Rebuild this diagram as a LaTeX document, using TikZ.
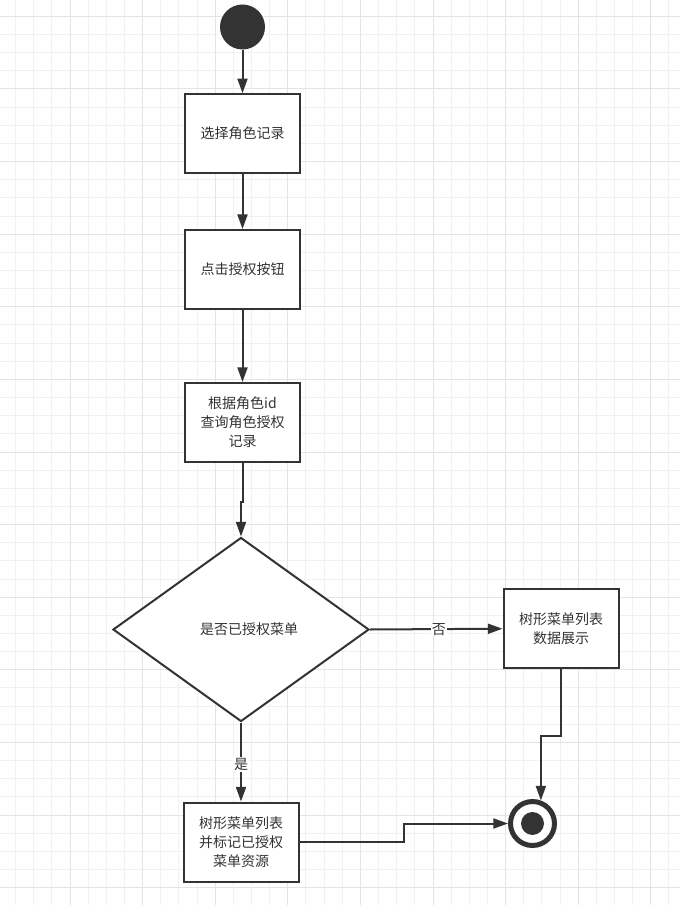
\documentclass[tikz,border=0pt]{standalone}
\usepackage{fontspec}
\setmainfont{Noto Sans CJK SC}
\usetikzlibrary{shapes.geometric,arrows.meta}
\definecolor{dk}{HTML}{333333}
\definecolor{gmin}{HTML}{F1F1F1}
\definecolor{gmaj}{HTML}{E4E4E4}
\begin{document}
\begin{tikzpicture}[x=0.75pt,y=-0.75pt,
  txt/.style={text=dk,font=\fontsize{10.5pt}{14.25pt}\selectfont,align=center},
  box/.style={txt,draw=dk,line width=1.5pt,fill=white,minimum width=86.25pt,minimum height=59.25pt,inner sep=2pt},
  arr/.style={draw=dk,line width=1.5pt,-{Triangle[length=11pt,width=7.5pt]}},
  lbl/.style={txt,fill=white,inner sep=1pt}]
\fill[white] (0,0) rectangle (680,905);
\useasboundingbox (0,0) rectangle (680,905);
% grid
\foreach \k in {-3,...,33} \draw[gmin,line width=0.75pt] ({70+18.15*\k},0) -- ({70+18.15*\k},905);
\foreach \k in {-4,...,44} \draw[gmin,line width=0.75pt] (0,{89+18.15*\k}) -- (680,{89+18.15*\k});
\foreach \k in {-1,...,8} \draw[gmaj,line width=0.75pt] ({70+72.6*\k},0) -- ({70+72.6*\k},905);
\foreach \k in {-1,...,11} \draw[gmaj,line width=0.75pt] (0,{89+72.6*\k}) -- (680,{89+72.6*\k});
% nodes
\node[circle,fill=dk,minimum size=33.75pt,inner sep=0pt] (start) at (242.5,27) {};
\node[box] (b1) at (242.5,133.7) {选择角色记录};
\node[box] (b2) at (242.5,269.5) {点击授权按钮};
\node[box] (b3) at (242.5,422.5) {根据角色id\\查询角色授权\\记录};
\node[diamond,draw=dk,line width=1.5pt,fill=white,minimum width=192pt,minimum height=138pt,aspect=1.39,inner sep=0pt] (d) at (241,629.5) {};
\node[txt] (dt) at (249,629) {是否已授权菜单};
\node[box] (b4) at (561,628.7) {树形菜单列表\\数据展示};
\node[box] (b5) at (241,842) {树形菜单列表\\并标记已授权\\菜单资源};
\node[circle,draw=dk,line width=3.75pt,fill=white,minimum size=33pt,inner sep=0pt] (end) at (532.5,823.5) {};
\fill[dk] (end.center) circle (8.6pt);
% connectors
\draw[arr] (start) -- (b1);
\draw[arr] (b1) -- (b2);
\draw[arr] (b2) -- (b3);
\draw[arr] (b3.south) -- (b3.south |- 0,502) -- (d.north |- 0,502) -- (d.north);
\draw[arr] (d.east) -- node[lbl,pos=0.52] {否} (b4.west);
\draw[arr] (d.south) -- node[lbl,pos=0.53] {是} (b5.north);
\draw[arr] (b4.south) -- (b4.south |- 0,736) -- (end.70 |- 0,736) -- (end.70);
\draw[arr] (b5.east) -- (b5.east -| 404,0) -- (end.west -| 404,0) -- (end.west);
\end{tikzpicture}
\end{document}
